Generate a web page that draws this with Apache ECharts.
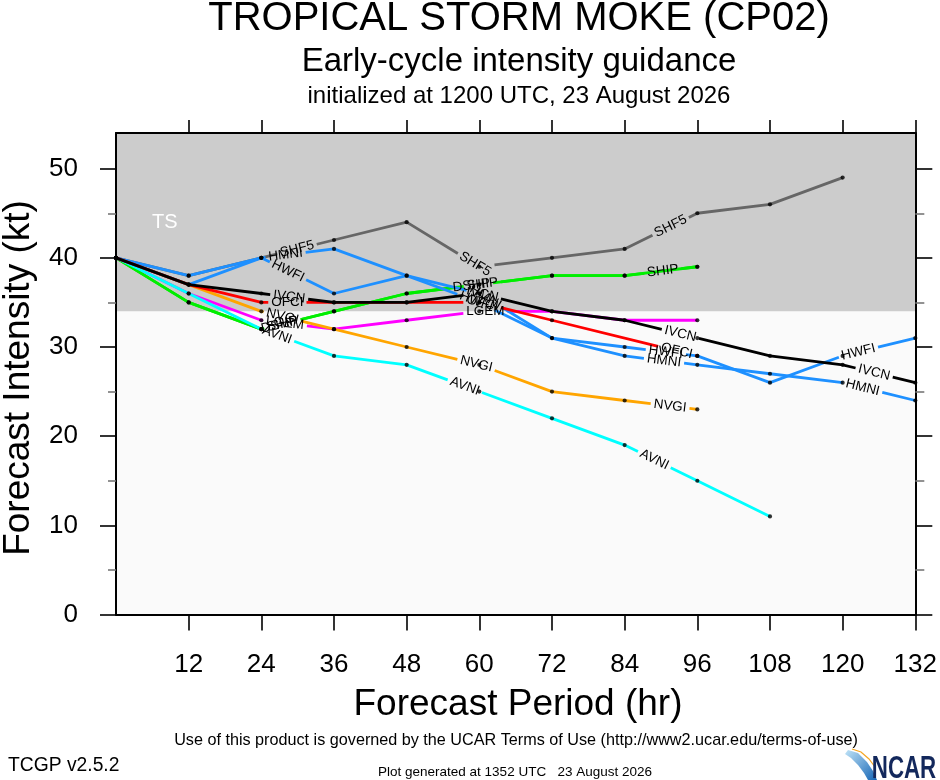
<!DOCTYPE html>
<html>
<head>
<meta charset="utf-8">
<script src="https://cdn.jsdelivr.net/npm/echarts@6.0.0/dist/echarts.min.js"></script>
<style>
html,body{margin:0;padding:0;background:#ffffff;}
#chart{width:940px;height:780px;}
</style>
</head>
<body>
<div id="chart"></div>
<script>
// ---------------- data ----------------
const HOURS = [0, 12, 24, 36, 48, 60, 72, 84, 96, 108, 120, 132];
const X_TICKS = [12, 24, 36, 48, 60, 72, 84, 96, 108, 120, 132];
const Y_TICKS = [0, 10, 20, 30, 40, 50];
const Y_MINOR = [5, 15, 25, 35, 45];

const SHF5 = [40, 38, 40, 42, 44, 39, 40, 41, 45, 46, 49, null];
const LGEM = [40, 36, 33, 32, 33, 34, 34, 33, 33, null, null, null];
const SHIP = [40, 35, 32, 34, 36, 37, 38, 38, 39, null, null, null];
const DSHP = [40, 35, 32, 34, 36, 37, 38, 38, 39, null, null, null];
const NVGI = [40, 37, 34, 32, 30, 28, 25, 24, 23, null, null, null];
const AVNI = [40, 36, 32, 29, 28, 25, 22, 19, 15, 11, null, null];
const HMNI = [40, 38, 40, 41, 38, 36, 31, 29, 28, 27, 26, 24];
const HWFI = [40, 37, 40, 36, 38, 35, 31, 30, 29, 26, 29, 31];
const OFCI = [40, 37, 35, 35, 35, 35, 33, null, 29, null, null, null];
const IVCN = [40, 37, 36, 35, 35, 36, 34, 33, 31, 29, 28, 26];

const MODEL_NAMES = ['SHF5', 'LGEM', 'SHIP', 'DSHP', 'NVGI', 'AVNI', 'HMNI', 'HWFI', 'OFCI', 'IVCN'];
const MODEL_VALUES = [SHF5, LGEM, SHIP, DSHP, NVGI, AVNI, HMNI, HWFI, OFCI, IVCN];
// forecast hour at which each on-line label is centred
const LABEL_HOURS = [
  [29.9, 59.3, 91.6],
  [27.9, 61],
  [27.5, 60.5, 90.3],
  [27, 58.7],
  [27.5, 59.5, 91.5],
  [26.6, 57.6, 88.9],
  [28, 61, 90.5, 123.3],
  [28.4, 59.5, 90.8, 122.6],
  [28.3, 60.5, 92.6],
  [28.6, 60.5, 93.2, 125.2]
];

const BAND_LO = [0, 34];
const BAND_HI = [34, 54];
const BAND_NAMES = ['', 'TS'];

const TITLE = 'TROPICAL STORM MOKE (CP02)';
const SUBTITLE = 'Early-cycle intensity guidance';
const INIT_TEXT = 'initialized at 1200 UTC, 23 August 2026';
const X_NAME = 'Forecast Period (hr)';
const Y_NAME = 'Forecast Intensity (kt)';
const TERMS = 'Use of this product is governed by the UCAR Terms of Use (http://www2.ucar.edu/terms-of-use)';
const VERSION = 'TCGP v2.5.2';
const GENERATED = 'Plot generated at 1352 UTC   23 August 2026';

// ---------------- styles ----------------
const FF = '"Liberation Sans", Arial, Helvetica, sans-serif';
const MODEL_COLORS = ['#666666', '#ff00ff', '#00ee00', '#00ee00', '#ffa500', '#00ffff',
  '#1e90ff', '#1e90ff', '#ff0000', '#000000'];
const LINE_W = 2.8;
const LABEL_SIZE = 13.5;
const GAP_PAD = 3;
const X_MIN = 0, X_MAX = 132, Y_MIN = 0, Y_MAX = 54;

const _ctx = document.createElement('canvas').getContext('2d');
function measure(t, f) { _ctx.font = f; return _ctx.measureText(t).width; }

function txtStyle(o) {
  const s = Object.assign({}, o);
  if (s.align) s.textAlign = s.align;
  if (s.verticalAlign) s.textVerticalAlign = s.verticalAlign;
  return s;
}

function renderModel(mi) {
  return function (params, api) {
    if (params.dataIndex !== 0) return null;
    const vals = MODEL_VALUES[mi];
    const pts = [], hrs = [];
    for (let i = 0; i < HOURS.length; i++) {
      if (vals[i] != null) { pts.push(api.coord([HOURS[i], vals[i]])); hrs.push(HOURS[i]); }
    }
    const cum = [0];
    for (let i = 1; i < pts.length; i++) {
      cum.push(cum[i - 1] + Math.hypot(pts[i][0] - pts[i - 1][0], pts[i][1] - pts[i - 1][1]));
    }
    const total = cum[cum.length - 1];
    const font = LABEL_SIZE + 'px ' + FF;
    const w = measure(MODEL_NAMES[mi], font);
    const gaps = [], texts = [];
    LABEL_HOURS[mi].forEach(function (h) {
      let j = 0;
      while (j < hrs.length - 2 && h > hrs[j + 1]) j++;
      const t = (h - hrs[j]) / (hrs[j + 1] - hrs[j]);
      const p0 = pts[j], p1 = pts[j + 1];
      const x = p0[0] + t * (p1[0] - p0[0]);
      const y = p0[1] + t * (p1[1] - p0[1]);
      const s = cum[j] + t * (cum[j + 1] - cum[j]);
      const ang = Math.atan2(p1[1] - p0[1], p1[0] - p0[0]);
      gaps.push([s - w / 2 - GAP_PAD, s + w / 2 + GAP_PAD]);
      texts.push({
        type: 'text', x: x, y: y, rotation: -ang, z2: 10,
        style: txtStyle({ text: MODEL_NAMES[mi], font: font, fill: '#000', align: 'center', verticalAlign: 'middle' })
      });
    });
    gaps.sort(function (a, b) { return a[0] - b[0]; });
    const vis = [];
    let cur = 0;
    gaps.forEach(function (g) {
      if (g[0] > cur) vis.push([cur, Math.min(g[0], total)]);
      cur = Math.max(cur, g[1]);
    });
    if (cur < total) vis.push([cur, total]);
    function at(s) {
      let k = 0;
      while (k < cum.length - 2 && s > cum[k + 1]) k++;
      const seg = cum[k + 1] - cum[k];
      const t = seg > 0 ? (s - cum[k]) / seg : 0;
      return [pts[k][0] + t * (pts[k + 1][0] - pts[k][0]), pts[k][1] + t * (pts[k + 1][1] - pts[k][1])];
    }
    const children = [];
    vis.forEach(function (iv) {
      const a = iv[0], b = iv[1];
      if (b - a < 0.5) return;
      const line = [at(a)];
      for (let k = 0; k < cum.length; k++) if (cum[k] > a && cum[k] < b) line.push(pts[k]);
      line.push(at(b));
      children.push({
        type: 'polyline', shape: { points: line },
        style: { stroke: MODEL_COLORS[mi], lineWidth: LINE_W, fill: null, lineJoin: 'round', lineCap: 'butt' }
      });
    });
    return { type: 'group', children: children.concat(texts) };
  };
}

function renderBand(params, api) {
  const i = params.dataIndex;
  const p0 = api.coord([X_MIN, BAND_HI[i]]);
  const p1 = api.coord([X_MAX, BAND_LO[i]]);
  const children = [{
    type: 'rect',
    shape: { x: p0[0], y: p0[1], width: p1[0] - p0[0], height: p1[1] - p0[1] },
    style: { fill: i === 1 ? '#cccccc' : '#fafafa' }
  }];
  if (BAND_NAMES[i]) {
    children.push({
      type: 'text', x: p0[0] + 36, y: p0[1] + 89.5,
      style: txtStyle({ text: BAND_NAMES[i], font: '20px ' + FF, fill: '#ffffff', align: 'left', verticalAlign: 'middle' })
    });
  }
  return { type: 'group', children: children };
}

const series = [];
series.push({
  type: 'custom', name: 'bands', z: 1, silent: true,
  data: BAND_LO.map(function (lo, i) { return [X_MIN, lo, X_MAX, BAND_HI[i]]; }),
  encode: { x: [0, 2], y: [1, 3] },
  renderItem: renderBand
});
MODEL_NAMES.forEach(function (name, mi) {
  const data = [];
  MODEL_VALUES[mi].forEach(function (v, i) { if (v != null) data.push([HOURS[i], v]); });
  series.push({
    type: 'custom', name: name, z: 2, silent: true,
    data: data, encode: { x: 0, y: 1 },
    renderItem: renderModel(mi)
  });
});
const dots = [];
MODEL_VALUES.forEach(function (vals) {
  vals.forEach(function (v, i) { if (v != null) dots.push([HOURS[i], v]); });
});
series.push({
  type: 'scatter', name: 'points', z: 3, silent: true,
  symbol: 'circle', symbolSize: 4.2,
  itemStyle: { color: '#000000' },
  data: dots
});

function mkX(pos, tickLen, labels) {
  return {
    type: 'value', min: X_MIN, max: X_MAX, position: pos, z: 10,
    axisLine: { show: true, onZero: false, lineStyle: { color: '#000', width: 2 } },
    axisTick: { show: true, inside: false, length: tickLen, customValues: X_TICKS, lineStyle: { color: '#000', width: 1.6 } },
    axisLabel: labels ? { show: true, customValues: X_TICKS, margin: 37, fontSize: 26, fontFamily: FF, color: '#000' } : { show: false },
    splitLine: { show: false }
  };
}
function mkY(pos, vals, tickLen, showLine, labels, col) {
  return {
    type: 'value', min: Y_MIN, max: Y_MAX, position: pos, z: 10,
    axisLine: { show: showLine, onZero: false, lineStyle: { color: '#000', width: 2 } },
    axisTick: { show: true, inside: false, length: tickLen, customValues: vals, lineStyle: { color: col, width: 1.6 } },
    axisLabel: labels ? { show: true, customValues: vals, margin: 38, fontSize: 26, fontFamily: FF, color: '#000' } : { show: false },
    splitLine: { show: false }
  };
}

function gtext(x, y, text, size, opts) {
  opts = opts || {};
  return {
    type: 'text', x: x, y: y, rotation: opts.rotation || 0, z: 100,
    scaleX: opts.scaleX || 1,
    style: txtStyle({
      text: text, font: (opts.weight || '') + ' ' + size + 'px ' + (opts.family || FF),
      fill: opts.fill || '#000', align: opts.align || 'center', verticalAlign: 'middle'
    })
  };
}

const option = {
  animation: false,
  backgroundColor: '#ffffff',
  grid: { left: 116, right: 23, top: 133, bottom: 165.5, containLabel: false },
  xAxis: [mkX('bottom', 16, true), mkX('top', 13, false)],
  yAxis: [
    mkY('left', Y_TICKS, 16, true, true, '#000'),
    mkY('left', Y_MINOR, 8, false, false, '#777'),
    mkY('right', Y_TICKS, 17, true, false, '#000'),
    mkY('right', Y_MINOR, 9, false, false, '#777')
  ],
  series: series,
  graphic: [
    gtext(519, 19, TITLE, 40),
    gtext(519, 62, SUBTITLE, 33),
    gtext(519, 96, INIT_TEXT, 24),
    gtext(518, 705, X_NAME, 37),
    gtext(19, 378, Y_NAME, 37, { rotation: Math.PI / 2 }),
    gtext(516, 741, TERMS, 16.2),
    gtext(8, 766, VERSION, 19.3, { align: 'left' }),
    gtext(515, 772, GENERATED, 13.5),
    {
      type: 'polygon', z: 99,
      shape: { points: [[848, 750], [858, 753], [867, 762], [873, 771], [877, 780], [868, 780], [864, 773], [858, 765], [851, 758], [845, 754]] },
      style: {
        fill: { type: 'linear', x: 0, y: 0, x2: 1, y2: 1, colorStops: [{ offset: 0, color: '#bfe3f7' }, { offset: 1, color: '#1565b5' }] }
      }
    },
    {
      type: 'polyline', z: 99,
      shape: { points: [[852, 749], [861, 752], [869, 759], [875, 767]] },
      style: { stroke: '#f5a623', lineWidth: 1.2, fill: null }
    },
    gtext(904, 769, 'NCAR', 31, { weight: 'bold', fill: '#13285c', scaleX: 0.72 })
  ]
};

const chart = echarts.init(document.getElementById('chart'), null, { renderer: 'canvas' });
chart.setOption(option);
</script>
</body>
</html>
